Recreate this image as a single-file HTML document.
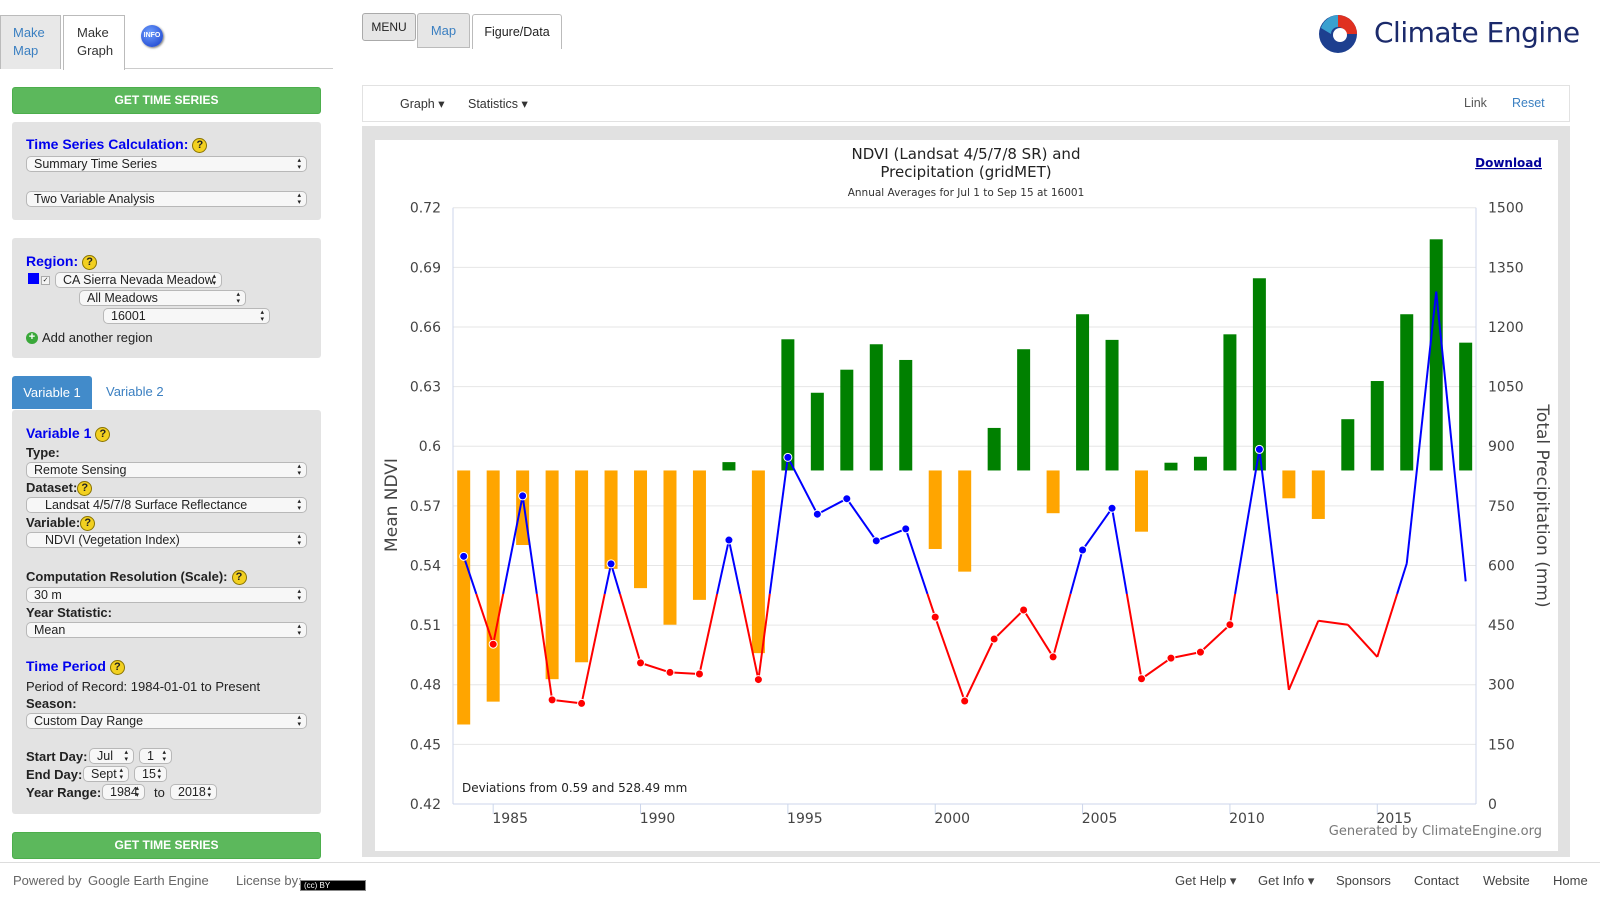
<!DOCTYPE html>
<html><head><meta charset="utf-8">
<style>
*{box-sizing:border-box;margin:0;padding:0}
body{width:1600px;height:909px;position:relative;background:#fff;font-family:"Liberation Sans",Arial,sans-serif;overflow:hidden;color:#222}
.abs{position:absolute}
.panel{position:absolute;left:12px;width:309px;background:#e3e3e3;border-radius:3px}
.lbl{position:absolute;font-size:13px;font-weight:bold;color:#222;white-space:nowrap}
.hd{position:absolute;font-size:14px;font-weight:bold;color:#0000ee;white-space:nowrap}
.sel{position:absolute;height:16px;background:#f7f7f7;border:1px solid #b8b8b8;border-radius:5px;font-size:12.5px;line-height:14px;padding-left:7px;white-space:nowrap;overflow:hidden}
.sel::after{content:"\25B4\A\25BE";white-space:pre;position:absolute;right:5px;top:0px;font-size:7px;line-height:7px}
.q{display:inline-block;width:15px;height:15px;border-radius:50%;background:#f2d020;border:1px solid #8a7400;font-size:11px;line-height:13px;text-align:center;color:#222;font-weight:bold;vertical-align:middle;margin-left:4px}
.btn{position:absolute;left:12px;width:309px;height:27px;background:#5cb85c;border:1px solid #4cae4c;border-radius:3px;color:#fff;font-size:12px;font-weight:bold;text-align:center;line-height:25px}
.foot{position:absolute;top:873px;font-size:13px;color:#444;white-space:nowrap}
</style></head><body>

<!-- left tabs -->
<div class="abs" style="left:0;top:15px;width:61px;height:54px;background:#e8e8e8;border:1px solid #bbb;border-bottom:none;color:#3a7fc1;font-size:13px;padding:8px 0 0 12px;line-height:18px">Make<br>Map</div>
<div class="abs" style="left:63px;top:15px;width:62px;height:55px;background:#fff;border:1px solid #bbb;border-bottom:none;color:#333;font-size:13px;padding:8px 0 0 13px;line-height:18px">Make<br>Graph</div>
<div class="abs" style="left:141px;top:25px;width:22px;height:22px;border-radius:50%;background:radial-gradient(circle at 40% 35%,#6fa0ff,#1238c8);color:#fff;font-size:7px;font-weight:bold;text-align:center;line-height:22px;box-shadow:1px 1px 2px #777">INFO</div>
<div class="abs" style="left:125px;top:68px;width:208px;height:1px;background:#ccc"></div>

<div class="btn" style="top:87px">GET TIME SERIES</div>

<div class="panel" style="top:122px;height:98px">
</div>
<div class="hd" style="left:26px;top:136px">Time Series Calculation:<span class="q">?</span></div>
<div class="sel" style="left:26px;top:156px;width:281px">Summary Time Series</div>
<div class="sel" style="left:26px;top:191px;width:281px">Two Variable Analysis</div>

<div class="panel" style="top:238px;height:120px"></div>
<div class="hd" style="left:26px;top:253px">Region:<span class="q">?</span></div>
<div class="abs" style="left:28px;top:273px;width:11px;height:11px;background:#0000ff"></div>
<div class="abs" style="left:41px;top:276px;width:9px;height:9px;background:#f4f4f4;border:1px solid #aaa;font-size:7px;line-height:7px;text-align:center">✓</div>
<div class="sel" style="left:55px;top:272px;width:167px">CA Sierra Nevada Meadow</div>
<div class="sel" style="left:79px;top:290px;width:167px">All Meadows</div>
<div class="sel" style="left:103px;top:308px;width:167px">16001</div>
<div class="abs" style="left:26px;top:332px;width:12px;height:12px;border-radius:50%;background:#3aa83a;color:#fff;font-size:11px;line-height:11px;text-align:center;font-weight:bold">+</div>
<div class="abs" style="left:42px;top:330px;font-size:13px;color:#222">Add another region</div>

<div class="abs" style="left:12px;top:376px;width:80px;height:33px;background:#428bca;border-radius:3px 3px 0 0;color:#fff;font-size:13px;text-align:center;line-height:33px">Variable 1</div>
<div class="abs" style="left:106px;top:384px;font-size:13px;color:#3a7fc1">Variable 2</div>

<div class="panel" style="top:410px;height:404px"></div>
<div class="hd" style="left:26px;top:425px">Variable 1<span class="q">?</span></div>
<div class="lbl" style="left:26px;top:445px">Type:</div>
<div class="sel" style="left:26px;top:462px;width:281px">Remote Sensing</div>
<div class="lbl" style="left:26px;top:480px">Dataset:<span class="q" style="margin-left:0">?</span></div>
<div class="sel" style="left:26px;top:497px;width:281px;padding-left:18px">Landsat 4/5/7/8 Surface Reflectance</div>
<div class="lbl" style="left:26px;top:515px">Variable:<span class="q" style="margin-left:0">?</span></div>
<div class="sel" style="left:26px;top:532px;width:281px;padding-left:18px">NDVI (Vegetation Index)</div>
<div class="lbl" style="left:26px;top:569px">Computation Resolution (Scale):<span class="q">?</span></div>
<div class="sel" style="left:26px;top:587px;width:281px">30 m</div>
<div class="lbl" style="left:26px;top:605px">Year Statistic:</div>
<div class="sel" style="left:26px;top:622px;width:281px">Mean</div>
<div class="hd" style="left:26px;top:658px">Time Period<span class="q">?</span></div>
<div class="abs" style="left:26px;top:679px;font-size:13px;white-space:nowrap">Period of Record: 1984-01-01 to Present</div>
<div class="lbl" style="left:26px;top:696px">Season:</div>
<div class="sel" style="left:26px;top:713px;width:281px">Custom Day Range</div>
<div class="lbl" style="left:26px;top:749px">Start Day:</div>
<div class="sel" style="left:89px;top:748px;width:45px">Jul</div>
<div class="sel" style="left:139px;top:748px;width:33px">1</div>
<div class="lbl" style="left:26px;top:767px">End Day:</div>
<div class="sel" style="left:83px;top:766px;width:46px">Sept</div>
<div class="sel" style="left:134px;top:766px;width:33px">15</div>
<div class="lbl" style="left:26px;top:785px">Year Range:</div>
<div class="sel" style="left:102px;top:784px;width:43px">1984</div>
<div class="abs" style="left:154px;top:785px;font-size:13px">to</div>
<div class="sel" style="left:170px;top:784px;width:47px">2018</div>

<div class="btn" style="top:832px">GET TIME SERIES</div>

<!-- footer -->
<div class="abs" style="left:0;top:862px;width:1600px;height:1px;background:#ddd"></div>
<div class="foot" style="left:13px;color:#666">Powered by</div>
<div class="foot" style="left:88px;color:#666">Google Earth Engine</div>
<div class="foot" style="left:236px;color:#666">License by:</div>
<div class="abs" style="left:300px;top:880px;width:66px;height:11px;background:#000;border:1px solid #888;color:#fff;font-size:8px;line-height:9px;padding-left:3px">(cc) BY</div>
<div class="foot" style="left:1175px">Get Help ▾</div>
<div class="foot" style="left:1258px">Get Info ▾</div>
<div class="foot" style="left:1336px">Sponsors</div>
<div class="foot" style="left:1414px">Contact</div>
<div class="foot" style="left:1483px">Website</div>
<div class="foot" style="left:1553px">Home</div>

<!-- header -->
<div class="abs" style="left:362px;top:13px;width:54px;height:28px;background:#e6e6e6;border:1px solid #aaa;border-radius:3px;font-size:12px;text-align:center;line-height:26px">MENU</div>
<div class="abs" style="left:417px;top:13px;width:53px;height:35px;background:#e6e6e6;border:1px solid #bbb;border-radius:3px 3px 0 0;color:#3a7fc1;font-size:13px;text-align:center;line-height:34px">Map</div>
<div class="abs" style="left:472px;top:14px;width:90px;height:35px;background:#fff;border:1px solid #bbb;border-bottom:none;border-radius:3px 3px 0 0;font-size:12.5px;text-align:center;line-height:34px">Figure/Data</div>
<div class="abs" style="left:562px;top:48px;width:1008px;height:1px;background:#fff"></div>
<svg class="abs" style="left:1318px;top:14px" width="42" height="42">
<circle cx="20" cy="20" r="19" fill="#1d3f8f"/>
<path d="M20 1 A19 19 0 0 1 39 20 L27 20 A7 7 0 0 0 20 13 Z" fill="#e03020"/>
<path d="M3 14 A19 19 0 0 1 20 1 L20 13 A7 7 0 0 0 13 20 Z" fill="#3aa0d0"/>
<circle cx="22" cy="21" r="7" fill="#fff"/>
</svg>
<div class="abs" style="left:1374px;top:16px;font-size:28px;color:#1b2a6b;font-family:'DejaVu Sans','Liberation Sans',sans-serif;white-space:nowrap;letter-spacing:-0.5px">Climate Engine</div>

<!-- chart container -->
<div class="abs" style="left:362px;top:85px;width:1208px;height:37px;background:#fff;border:1px solid #e2e2e2"></div>
<div class="abs" style="left:400px;top:96px;font-size:12.5px;color:#333">Graph ▾</div>
<div class="abs" style="left:468px;top:96px;font-size:12.5px;color:#333">Statistics ▾</div>
<div class="abs" style="left:1464px;top:96px;font-size:12.5px;color:#555">Link</div>
<div class="abs" style="left:1512px;top:96px;font-size:12.5px;color:#3a7fc1">Reset</div>
<div class="abs" style="left:362px;top:126px;width:1208px;height:731px;background:#e1e1e1"></div>
<div class="abs" style="left:375px;top:140px;width:1183px;height:711px;background:#fff"></div>

<svg id="chart" class="abs" style="left:0;top:0" width="1600" height="909" font-family="'DejaVu Sans','Liberation Sans',sans-serif"></svg>

<script>
const years=[1984,1985,1986,1987,1988,1989,1990,1991,1992,1993,1994,1995,1996,1997,1998,1999,2000,2001,2002,2003,2004,2005,2006,2007,2008,2009,2010,2011,2012,2013,2014,2015,2016,2017,2018];
const ndvi=[0.460,0.4715,0.5503,0.4828,0.4913,0.5383,0.5286,0.5102,0.5227,0.592,0.4959,0.6538,0.6269,0.6385,0.6513,0.6434,0.5483,0.5369,0.6092,0.6488,0.5663,0.6664,0.6535,0.557,0.5917,0.5947,0.6563,0.6845,0.5738,0.5634,0.6136,0.6328,0.6664,0.7041,0.6521];
const precip=[623,402,775,262,253,604,355,331,327,664,313,872,729,768,662,692,470,259,415,488,370,639,744,315,367,382,451,892,287,461,451,370,605,1289,560];
const leftTicks=[0.42,0.45,0.48,0.51,0.54,0.57,0.6,0.63,0.66,0.69,0.72];
const rightTicks=[0,150,300,450,600,750,900,1050,1200,1350,1500];
const xTicks=[1985,1990,1995,2000,2005,2010,2015];
const ndviMean=0.5878, precipMean=528.49;

const svg=document.getElementById('chart');
const NS='http://www.w3.org/2000/svg';
const PL=453,PR=1476,PT=207.7,PB=804;
function x(yr){return 463.7+(yr-1984)*29.47;}
function yL(v){return PB-(v-0.42)/0.30*(PB-PT);}
function yR(v){return PB-v/1500*(PB-PT);}
function mk(tag,attrs,parent){const e=document.createElementNS(NS,tag);for(const k in attrs)e.setAttribute(k,attrs[k]);(parent||svg).appendChild(e);return e;}

leftTicks.forEach(v=>{
  const g=mk('line',{x1:PL,x2:PR,y1:yL(v),y2:yL(v),stroke:'#e6e6e6','stroke-width':1});
  
  
  const t=mk('text',{x:441,y:yL(v)+5,'text-anchor':'end','font-size':14,fill:'#444'});
  t.textContent=String(v);
  
  
});
rightTicks.forEach(v=>{
  const t=mk('text',{x:1488,y:yR(v)+5,'font-size':14,fill:'#444'});
  t.textContent=String(v);
  
  
});
let a=mk('line',{x1:PL,x2:PL,y1:PT,y2:PB,stroke:'#ccd6eb'});


a=mk('line',{x1:PR,x2:PR,y1:PT,y2:PB,stroke:'#ccd6eb'});


a=mk('line',{x1:PL,x2:PR,y1:PB,y2:PB,stroke:'#ccd6eb'});


xTicks.forEach(yr=>{
  const tk=mk('line',{x1:x(yr),x2:x(yr),y1:PB,y2:PB+10,stroke:'#ccd6eb'});
  
  
  const t=mk('text',{x:x(yr)+17,y:823,'text-anchor':'middle','font-size':14,fill:'#444'});
  t.textContent=String(yr);
  
  
});
years.forEach((yr,i)=>{
  const v=ndvi[i];const y0=yL(ndviMean),y1=yL(v);
  const r=mk('rect',{x:x(yr)-6.5,y:Math.min(y0,y1),width:13,height:Math.abs(y1-y0),fill:v>=ndviMean?'#008000':'#ffa500'});
  
  
});
for(let i=0;i<years.length-1;i++){
  const x1=x(years[i]),x2=x(years[i+1]),p1=precip[i],p2=precip[i+1];
  const pts=[[x1,p1]];
  if((p1-precipMean)*(p2-precipMean)<0){const f=(precipMean-p1)/(p2-p1);pts.push([x1+f*(x2-x1),precipMean]);}
  pts.push([x2,p2]);
  for(let j=0;j<pts.length-1;j++){
    const mid=(pts[j][1]+pts[j+1][1])/2;
    const s=mk('line',{x1:pts[j][0],y1:yR(pts[j][1]),x2:pts[j+1][0],y2:yR(pts[j+1][1]),stroke:mid>=precipMean?'#0000ff':'#ff0000','stroke-width':2});
    
    
  }
}
years.forEach((yr,i)=>{
  if(yr>2011)return;
  const c=mk('circle',{cx:x(yr),cy:yR(precip[i]),r:4,fill:precip[i]>=precipMean?'#0000ff':'#ff0000',stroke:'#fff','stroke-width':1});
  
  
});
function txt(s,attrs,name,inter){const t=mk('text',attrs);t.textContent=s;return t;}
txt('NDVI (Landsat 4/5/7/8 SR) and',{x:966,y:159,'text-anchor':'middle','font-size':15,fill:'#222'},'chart-title-line-1','false');
txt('Precipitation (gridMET)',{x:966,y:177,'text-anchor':'middle','font-size':15,fill:'#222'},'chart-title-line-2','false');
txt('Annual Averages for Jul 1 to Sep 15 at 16001',{x:966,y:196,'text-anchor':'middle','font-size':10.5,fill:'#333'},'chart-subtitle','false');
txt('Download',{x:1542,y:167,'text-anchor':'end','font-size':12,'font-weight':'bold',fill:'#000099','text-decoration':'underline'},'download-link','true');
txt('Mean NDVI',{x:0,y:0,'text-anchor':'middle','font-size':17,fill:'#444',transform:'translate(397,505) rotate(-90)'},'left-axis-title','false');
txt('Total Precipitation (mm)',{x:0,y:0,'text-anchor':'middle','font-size':17,fill:'#444',transform:'translate(1537,506) rotate(90)'},'right-axis-title','false');
txt('Deviations from 0.59 and 528.49 mm',{x:462,y:792,'font-size':12,fill:'#222'},'deviation-note','false');
txt('Generated by ClimateEngine.org',{x:1542,y:835,'text-anchor':'end','font-size':13,fill:'#777'},'credits','true');
</script>
</body></html>
